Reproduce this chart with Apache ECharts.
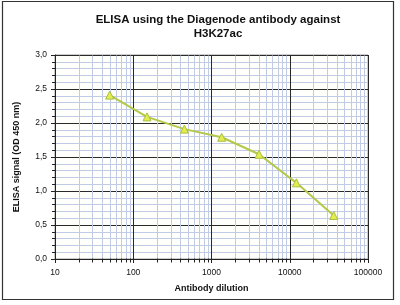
<!DOCTYPE html>
<html>
<head>
<meta charset="utf-8">
<script src="https://cdn.jsdelivr.net/npm/echarts@6/dist/echarts.min.js"></script>
<style>
html,body{margin:0;padding:0;background:#fff;}
#c{width:400px;height:305px;}
</style>
</head>
<body>
<div id="c"></div>
<script>
const titleLines = ["ELISA using the Diagenode antibody against", "H3K27ac"];
const xAxisTitle = "Antibody dilution";
const yAxisTitle = "ELISA signal (OD 450 nm)";
const dilutions = [50, 150, 450, 1350, 4050, 12150, 36450];
const signal = [2.41, 2.09, 1.91, 1.79, 1.54, 1.12, 0.64];
const xTickLabels = [10, 100, 1000, 10000, 100000];
const minorX = [];
[10, 100, 1000, 10000].forEach(function (d) { for (let k = 2; k <= 9; k++) minorX.push(d * k); });

const FONT = "'Liberation Sans', Arial, sans-serif";
const chart = echarts.init(document.getElementById('c'), null, {renderer: 'canvas'});

chart.setOption({
  animation: false,
  backgroundColor: '#ffffff',
  title: {
    text: titleLines.join('\n'),
    left: 213, top: 8, textAlign: 'center',
    textStyle: {fontFamily: FONT, fontSize: 11.5, fontWeight: 'bold', color: '#111', lineHeight: 14}
  },
  graphic: [{
    type: 'rect', shape: {x: 2.5, y: 1.5, width: 391, height: 298},
    style: {fill: null, stroke: '#333', lineWidth: 1.2}, silent: true, z: 100
  }],
  grid: {left: 55, right: 32, top: 55, bottom: 46, show: true, borderColor: '#999', borderWidth: 1, backgroundColor: '#fffffb'},
  xAxis: {
    type: 'log', logBase: 10, min: 10, max: 100000,
    name: xAxisTitle, nameLocation: 'middle', nameGap: 25,
    nameTextStyle: {fontFamily: FONT, fontSize: 9, fontWeight: 'bold', color: '#111'},
    axisLine: {show: true, lineStyle: {color: '#222', width: 1}},
    axisTick: {show: true, length: 4, lineStyle: {color: '#222'}},
    axisLabel: {fontFamily: FONT, fontSize: 8.5, color: '#111', margin: 9,
      formatter: function (v) { return String(Math.round(v)); }},
    splitLine: {show: true, lineStyle: {color: '#2a2a2a', width: 1}}
  },
  yAxis: {
    type: 'value', min: 0, max: 3, interval: 0.5,
    name: yAxisTitle, nameLocation: 'middle', nameGap: 34,
    nameTextStyle: {fontFamily: FONT, fontSize: 9, fontWeight: 'bold', color: '#111'},
    axisLine: {show: true, lineStyle: {color: '#222', width: 1}},
    axisTick: {show: true, length: 4, lineStyle: {color: '#222'}},
    minorTick: {show: true, splitNumber: 5, length: 3, lineStyle: {color: '#222'}},
    minorSplitLine: {show: true, lineStyle: {color: '#c2cbe6', width: 1}},
    axisLabel: {fontFamily: FONT, fontSize: 8.5, color: '#111', margin: 8,
      formatter: function (v) { return v.toFixed(1).replace('.', ','); }},
    splitLine: {show: true, lineStyle: {color: '#2a2a2a', width: 1}}
  },
  series: [{
    type: 'custom',
    coordinateSystem: 'cartesian2d',
    clip: false,
    silent: true,
    z: 1,
    data: minorX.map(function (v) { return [v, 0]; }),
    renderItem: function (params, api) {
      const v = api.value(0);
      const b = api.coord([v, 0]);
      const t = api.coord([v, 3]);
      const x = Math.round(b[0]) + 0.5;
      const yb = Math.round(b[1]) + 0.5;
      return {
        type: 'group',
        children: [
          {type: 'line', shape: {x1: x, y1: Math.round(t[1]) + 0.5, x2: x, y2: yb},
            style: {stroke: '#c2cbe6', lineWidth: 1}},
          {type: 'line', shape: {x1: x, y1: yb - 1, x2: x, y2: yb + 3},
            style: {stroke: '#222', lineWidth: 1}}
        ]
      };
    }
  }, {
    type: 'line',
    data: dilutions.map(function (d, i) { return [d, signal[i]]; }),
    z: 5,
    lineStyle: {color: '#b4c84a', width: 2},
    symbol: 'triangle', symbolSize: 8,
    itemStyle: {color: '#e4ec50', borderColor: '#a8c040', borderWidth: 1}
  }]
});
</script>
</body>
</html>
